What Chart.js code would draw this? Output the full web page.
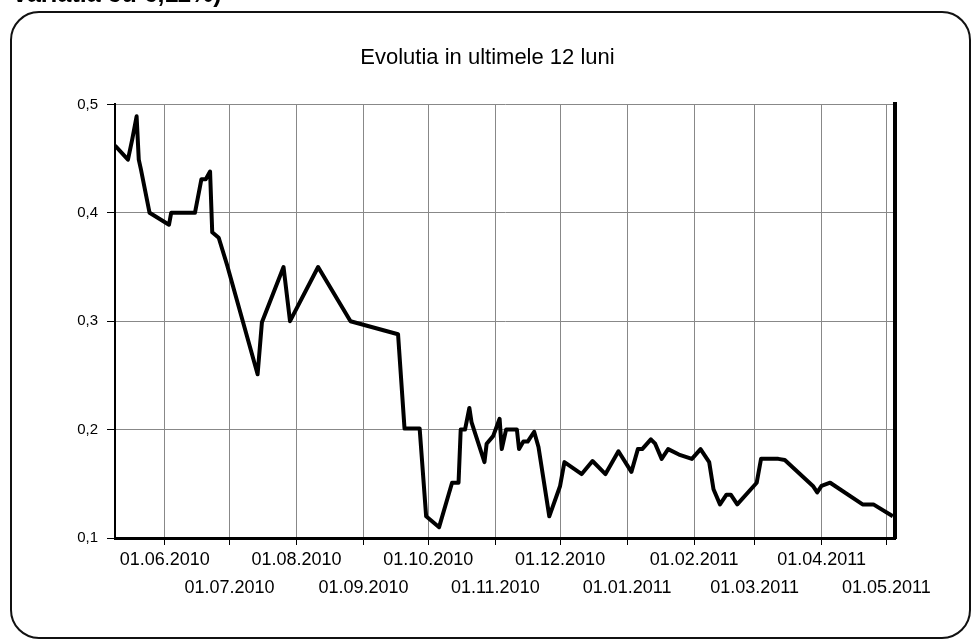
<!DOCTYPE html>
<html><head><meta charset="utf-8">
<script src="https://cdn.jsdelivr.net/npm/chart.js@4.4.0/dist/chart.umd.min.js"></script>
<style>
html,body{margin:0;padding:0;background:#fff;}
#wrap{position:relative;width:975px;height:642px;overflow:hidden;background:#fff;}
canvas{position:absolute;left:0;top:0;}
#cut{position:absolute;left:13px;top:-22px;font:bold 25px "Liberation Sans",Arial,sans-serif;line-height:30px;color:#000;white-space:nowrap;}
</style></head><body>
<div id="wrap"><canvas id="c" width="975" height="642"></canvas><div id="cut">variatia cu 6,11%)</div></div>
<script>
const titleText = 'Evolutia in ultimele 12 luni';
const xRange = ['2010-05-09', '2011-05-05'];
const monthTicks = ['2010-06-01','2010-07-01','2010-08-01','2010-09-01','2010-10-01','2010-11-01',
  '2010-12-01','2011-01-01','2011-02-01','2011-03-01','2011-04-01','2011-05-01'];
const yTicks = [0.1, 0.2, 0.3, 0.4, 0.5];
const dates = [
 '2010-05-09','2010-05-15','2010-05-17','2010-05-19','2010-05-20','2010-05-21','2010-05-25','2010-06-03',
 '2010-06-04','2010-06-15','2010-06-18','2010-06-20','2010-06-22','2010-06-23','2010-06-26','2010-06-30',
 '2010-07-14','2010-07-16','2010-07-26','2010-07-29','2010-08-11','2010-08-26','2010-09-17','2010-09-20',
 '2010-09-27','2010-09-30','2010-10-06','2010-10-12','2010-10-15','2010-10-16','2010-10-18','2010-10-20',
 '2010-10-21','2010-10-27','2010-10-28','2010-10-31','2010-11-03','2010-11-04','2010-11-06','2010-11-11',
 '2010-11-12','2010-11-14','2010-11-16','2010-11-19','2010-11-21','2010-11-26','2010-12-01','2010-12-03',
 '2010-12-11','2010-12-16','2010-12-22','2010-12-28','2011-01-03','2011-01-06','2011-01-08','2011-01-12',
 '2011-01-14','2011-01-17','2011-01-20','2011-01-25','2011-01-31','2011-02-04','2011-02-08','2011-02-10',
 '2011-02-13','2011-02-16','2011-02-18','2011-02-21','2011-03-02','2011-03-04','2011-03-12','2011-03-15',
 '2011-03-28','2011-03-30','2011-04-01','2011-04-05','2011-04-20','2011-04-25','2011-05-04'];
const values = [
 0.462,0.449,0.468,0.489,0.449,0.440,0.400,0.389,
 0.400,0.400,0.431,0.431,0.438,0.382,0.377,0.351,
 0.251,0.299,0.350,0.300,0.350,0.300,0.288,0.201,
 0.201,0.120,0.110,0.151,0.151,0.200,0.200,0.220,
 0.207,0.170,0.187,0.194,0.210,0.182,0.200,0.200,
 0.182,0.189,0.189,0.198,0.184,0.120,0.148,0.170,
 0.159,0.171,0.159,0.180,0.161,0.182,0.182,0.191,
 0.187,0.173,0.182,0.177,0.173,0.182,0.170,0.145,
 0.131,0.140,0.140,0.131,0.151,0.173,0.173,0.172,
 0.148,0.142,0.148,0.151,0.131,0.131,0.120];

function dayNum(s){const p=s.split('-').map(Number);return Date.UTC(p[0],p[1]-1,p[2])/86400000;}
function fmt(n){const dt=new Date(Math.round(n)*86400000);
  return String(dt.getUTCDate()).padStart(2,'0')+'.'+String(dt.getUTCMonth()+1).padStart(2,'0')+'.'+dt.getUTCFullYear();}

const points = dates.map((d,i)=>({x:dayNum(d), y:values[i]}));
const monthNums = monthTicks.map(dayNum);

const frame = {id:'frame', beforeDraw(chart){
  const c = chart.ctx; c.save();
  c.fillStyle='#fff'; c.fillRect(0,0,chart.width,chart.height);
  c.strokeStyle='#111'; c.lineWidth=2; c.beginPath();
  c.roundRect(11,12,959,626,28); c.stroke(); c.restore();
}};

const font = {family:'"Liberation Sans", Arial, sans-serif'};
new Chart(document.getElementById('c'), {
  type:'line',
  data:{datasets:[{data:points, borderColor:'#000', borderWidth:4, pointRadius:0,
    tension:0, borderJoinStyle:'round', fill:false}]},
  options:{
    responsive:false, animation:false, devicePixelRatio:1,
    layout:{padding:{top:0,left:10,right:10,bottom:4}},
    plugins:{legend:{display:false}, tooltip:{enabled:false},
      title:{display:true, text:titleText, color:'#000',
        font:{family:font.family, size:22, weight:'normal'}, padding:{top:45,bottom:33}}},
    scales:{
      x:{type:'linear', min:dayNum(xRange[0]), max:dayNum(xRange[1]),
        afterBuildTicks(s){ s.ticks = monthNums.map(v=>({value:v})); },
        afterFit(s){ s.height = 100; },
        ticks:{autoSkip:false, maxRotation:0, minRotation:0, color:'#000', padding:1,
          font:{family:font.family, size:18, lineHeight:1.55},
          callback(v, i){ const t = fmt(v); return i%2===0 ? t : ['', t]; }},
        grid:{color:'#888', lineWidth:1, borderDash:[1,3], tickColor:'#000', tickLength:7, tickBorderDash:[]},
        border:{color:'#000', width:3}},
      y:{min:0.1, max:0.5,
        afterBuildTicks(s){ s.ticks = yTicks.map(v=>({value:v})); },
        afterFit(s){ s.width = 105; },
        ticks:{color:'#000', padding:9, font:{family:font.family, size:15},
          callback(v){ return v.toFixed(1).replace('.', ','); }},
        grid:{color:'#888', lineWidth:1, borderDash:[1,3], tickColor:'#000', tickLength:8, tickBorderDash:[]},
        border:{color:'#000', width:2}},
      y2:{position:'right', min:0.1, max:0.5,
        afterFit(s){ s.width = 70; },
        ticks:{display:false}, grid:{display:false, drawTicks:false},
        border:{color:'#000', width:4}}
    }
  },
  plugins:[frame]
});
</script>
</body></html>
